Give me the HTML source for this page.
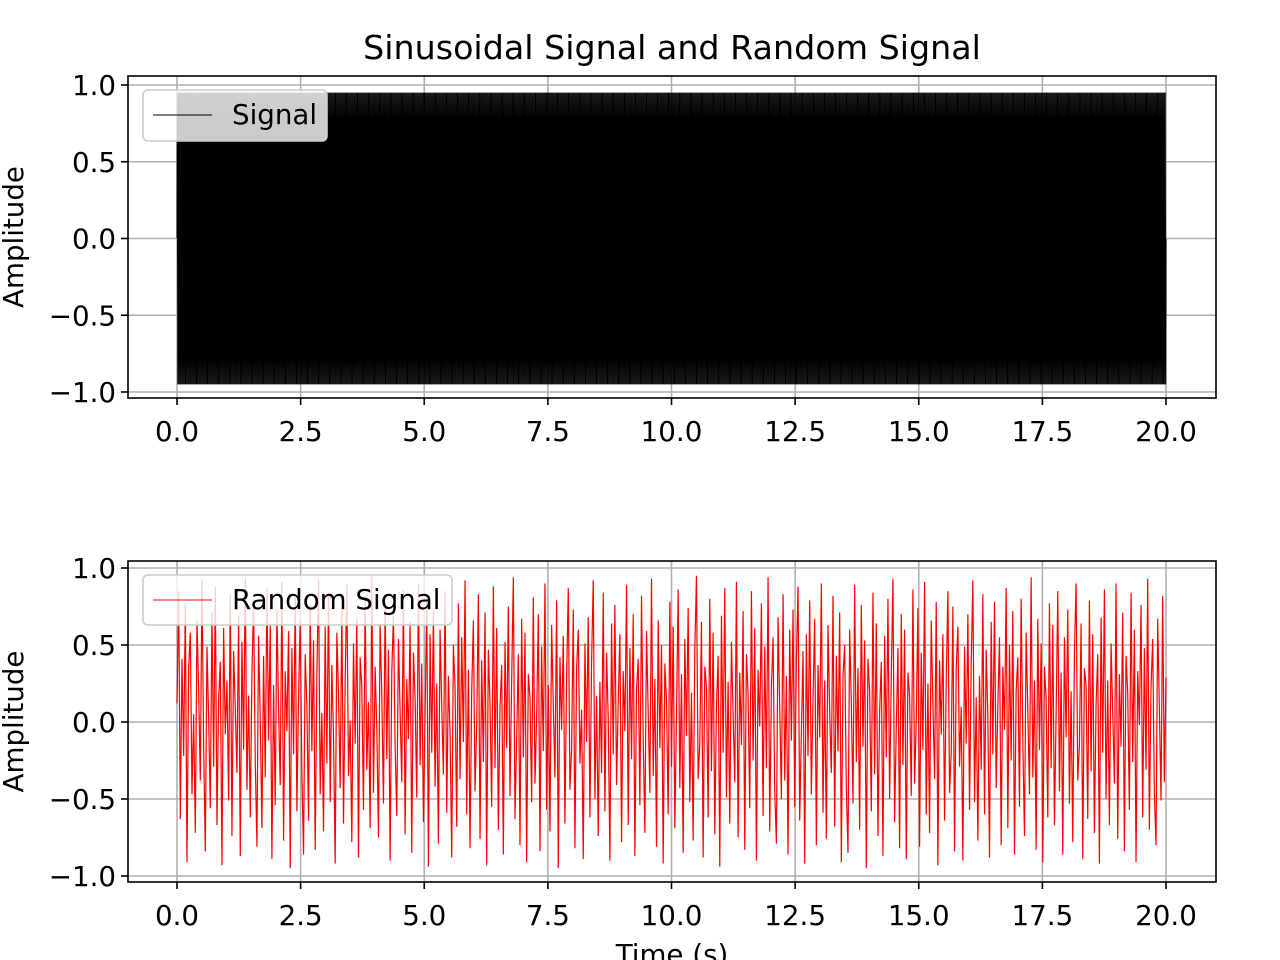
<!DOCTYPE html>
<html><head><meta charset="utf-8"><style>
html,body{margin:0;padding:0;background:#fff;}
svg{display:block;font-family:"DejaVu Sans","Liberation Sans",sans-serif;}
</style></head><body>
<svg id="fig" width="1280" height="960" viewBox="0 0 1280 960"></svg>
<script>
const xTicks=[0,2.5,5,7.5,10,12.5,15,17.5,20];
const xTickLabels=["0.0","2.5","5.0","7.5","10.0","12.5","15.0","17.5","20.0"];
const yTicks=[-1,-0.5,0,0.5,1];
const yTickLabels=["\u22121.0","\u22120.5","0.0","0.5","1.0"];
const sigAmp=0.95;
const sigFreq=45;
const tStart=0, tEnd=20;
const randomValues=[0.12,0.85,-0.63,0.41,-0.22,0.77,-0.91,0.35,0.58,-0.47,0.05,-0.72,0.66,0.21,-0.38,0.92,-0.15,-0.84,0.49,0.03,-0.56,0.71,-0.29,0.88,-0.67,0.14,0.39,-0.93,0.61,-0.08,0.27,-0.51,0.83,-0.74,0.46,0.09,-0.33,0.69,-0.87,0.52,-0.18,0.94,-0.44,0.17,-0.62,0.31,0.78,-0.25,-0.81,0.56,0.02,-0.69,0.43,-0.36,0.87,-0.12,0.64,-0.89,0.24,-0.54,0.73,0.08,-0.41,0.91,-0.77,0.33,-0.06,0.59,-0.95,0.48,-0.21,0.81,-0.58,0.16,0.67,-0.32,-0.86,0.44,0.11,-0.64,0.76,-0.19,0.53,-0.83,0.29,0.93,-0.47,0.06,-0.71,0.62,-0.27,0.84,-0.52,0.37,-0.09,-0.92,0.58,0.19,-0.43,0.74,-0.66,0.26,0.89,-0.35,0.01,-0.78,0.51,-0.14,0.68,-0.88,0.42,0.23,-0.57,0.82,-0.31,0.13,-0.69,0.95,-0.46,0.36,-0.04,-0.75,0.63,0.18,-0.53,0.79,-0.24,0.47,-0.9,0.32,0.7,-0.16,-0.61,0.54,0.07,-0.39,0.86,-0.73,0.28,-0.11,0.65,-0.85,0.45,0.15,-0.49,0.9,-0.28,0.38,-0.65,0.04,0.8,-0.94,0.57,-0.2,0.72,-0.42,0.25,-0.79,0.6,0.1,-0.34,0.85,-0.59,0.3,-0.07,-0.88,0.5,0.22,-0.68,0.77,-0.37,0.55,-0.13,0.92,-0.6,0.34,-0.82,0.2,0.66,-0.45,-0.02,0.83,-0.76,0.4,-0.26,0.71,-0.93,0.47,0.12,-0.55,0.88,-0.3,0.61,-0.7,0.09,0.37,-0.86,0.52,-0.17,0.75,-0.48,0.27,0.94,-0.63,-0.1,0.44,-0.8,0.67,-0.23,0.58,-0.91,0.31,0.16,-0.52,0.81,-0.4,0.03,0.7,-0.84,0.49,-0.19,0.9,-0.57,0.24,-0.71,0.63,0.11,-0.36,0.79,-0.95,0.42,-0.05,0.56,-0.66,0.29,0.87,-0.44,-0.18,0.73,-0.82,0.35,0.6,-0.27,0.08,-0.89,0.51,-0.13,0.68,-0.62,0.39,0.92,-0.5,0.17,-0.74,0.26,-0.33,0.84,-0.58,0.45,0.02,-0.9,0.64,-0.21,0.76,-0.41,0.13,0.57,-0.78,0.33,-0.06,0.89,-0.67,0.48,-0.24,0.7,-0.87,0.21,0.41,-0.54,0.82,-0.11,-0.72,0.59,0.07,-0.46,0.93,-0.35,0.28,-0.81,0.66,-0.17,0.5,-0.92,0.38,0.14,-0.6,0.78,-0.29,0.62,-0.69,0.04,0.86,-0.43,0.31,-0.85,0.54,-0.09,0.74,-0.52,0.19,-0.77,0.47,0.95,-0.37,-0.14,0.65,-0.88,0.36,0.23,-0.62,0.8,-0.32,0.58,-0.73,0.1,0.43,-0.94,0.69,-0.2,0.87,-0.49,0.26,-0.66,0.52,0.05,-0.39,0.91,-0.75,0.32,-0.15,0.72,-0.83,0.44,0.18,-0.56,0.85,-0.25,0.61,-0.9,0.34,-0.03,0.77,-0.61,0.49,-0.3,0.94,-0.71,0.22,0.55,-0.45,-0.79,0.68,0.09,-0.5,0.83,-0.38,0.3,-0.86,0.6,-0.12,0.73,-0.55,0.4,0.88,-0.64,-0.07,0.46,-0.92,0.57,-0.22,0.79,-0.47,0.15,0.67,-0.8,0.37,-0.1,0.9,-0.59,0.27,-0.76,0.63,0.06,-0.33,0.82,-0.68,0.43,-0.19,0.71,-0.91,0.3,0.5,-0.42,-0.85,0.6,0.13,-0.53,0.89,-0.26,0.35,-0.7,0.76,-0.16,0.53,-0.95,0.41,0.2,-0.58,0.84,-0.34,0.64,-0.74,0.07,0.39,-0.87,0.56,-0.23,0.8,-0.5,0.29,0.93,-0.65,-0.04,0.48,-0.82,0.7,-0.28,0.6,-0.89,0.32,0.17,-0.48,0.86,-0.4,0.01,0.74,-0.81,0.45,-0.18,0.91,-0.6,0.25,-0.72,0.66,0.12,-0.37,0.78,-0.93,0.4,-0.08,0.57,-0.64,0.28,0.85,-0.46,-0.2,0.75,-0.84,0.34,0.62,-0.29,0.1,-0.9,0.49,-0.14,0.7,-0.57,0.38,0.92,-0.52,0.16,-0.77,0.3,-0.31,0.83,-0.6,0.47,0.03,-0.88,0.65,-0.21,0.78,-0.43,0.11,0.55,-0.8,0.36,-0.05,0.87,-0.69,0.5,-0.25,0.72,-0.86,0.2,0.42,-0.55,0.8,-0.12,-0.74,0.58,0.08,-0.47,0.94,-0.36,0.27,-0.83,0.67,-0.18,0.51,-0.91,0.36,0.15,-0.62,0.77,-0.3,0.63,-0.67,0.05,0.85,-0.45,0.32,-0.86,0.55,-0.1,0.73,-0.53,0.2,-0.78,0.46,0.9,-0.38,-0.15,0.64,-0.89,0.35,0.24,-0.63,0.79,-0.32,0.57,-0.72,0.11,0.44,-0.92,0.68,-0.2,0.86,-0.5,0.27,-0.67,0.51,0.06,-0.4,0.9,-0.76,0.31,-0.16,0.71,-0.84,0.43,0.19,-0.57,0.84,-0.26,0.6,-0.91,0.33,-0.02,0.76,-0.62,0.48,-0.31,0.93,-0.7,0.23,0.54,-0.46,-0.8,0.67,0.1,-0.51,0.82,-0.39,0.29];

const NS="http://www.w3.org/2000/svg";
const svg=document.getElementById('fig');
function mk(tag,attrs,parent){const e=document.createElementNS(NS,tag);for(const k in attrs)e.setAttribute(k,attrs[k]);(parent||svg).appendChild(e);return e;}

const L=128,R=1216,X0=177,X1=1166;
const FS=27.7;
function xs(v){return X0+(v-tStart)/(tEnd-tStart)*(X1-X0);}

function axes(top,bottom,yTop,yBot,name){
  const g=mk('g',{});
  
  
  const ys=v=>yBot+(v+1)/2*(yTop-yBot);
  xTicks.forEach((t,i)=>{
    const x=xs(t);
    const gl=mk('line',{x1:x,x2:x,y1:top,y2:bottom,stroke:'#b0b0b0','stroke-width':1.6},g);
    
    
    mk('line',{x1:x,x2:x,y1:bottom,y2:bottom+7,stroke:'#000','stroke-width':1.6},g);
    const tx=mk('text',{x:x,y:bottom+43,'text-anchor':'middle','font-size':FS},g);
    tx.textContent=xTickLabels[i];
    
    
  });
  yTicks.forEach((t,i)=>{
    const y=ys(t);
    const gl=mk('line',{x1:L,x2:R,y1:y,y2:y,stroke:'#b0b0b0','stroke-width':1.6},g);
    
    
    mk('line',{x1:L-7,x2:L,y1:y,y2:y,stroke:'#000','stroke-width':1.6},g);
    const tx=mk('text',{x:L-12,y:y+10,'text-anchor':'end','font-size':FS},g);
    tx.textContent=yTickLabels[i];
    
    
  });
  const yl=mk('text',{x:0,y:0,'text-anchor':'middle','font-size':FS,transform:`translate(23,${(top+bottom)/2}) rotate(-90)`},g);
  yl.textContent='Amplitude';
  
  
  return {g,ys};
}

// top
const A=axes(76,398,85,392,'top-axes');
let pts=[];
const nHalf=Math.round((tEnd-tStart)*sigFreq*2);
pts.push(xs(tStart)+','+A.ys(0));
for(let i=0;i<nHalf;i++){
  const t=tStart+(i+0.5)/(sigFreq*2);
  pts.push(xs(t).toFixed(2)+','+A.ys(i%2===0?sigAmp:-sigAmp).toFixed(2));
}
pts.push(xs(tEnd)+','+A.ys(0));
const sl=mk('polyline',{points:pts.join(' '),fill:'none',stroke:'#000','stroke-width':1},A.g);


const f1=mk('rect',{x:L,y:76,width:R-L,height:322,fill:'none',stroke:'#000','stroke-width':1.6},A.g);



// bottom
const B=axes(561,882,568,876,'bottom-axes');
let rp=[];
randomValues.forEach((v,i)=>{
  const t=tStart+i/(randomValues.length-1)*(tEnd-tStart);
  rp.push(xs(t).toFixed(2)+','+B.ys(v).toFixed(2));
});
const rl=mk('polyline',{points:rp.join(' '),fill:'none',stroke:'#ff0000','stroke-width':1.2},B.g);


const f2=mk('rect',{x:L,y:561,width:R-L,height:321,fill:'none',stroke:'#000','stroke-width':1.6},B.g);



function legend(x,y,w,h,color,label,name){
  const g=mk('g',{});
  
  
  mk('rect',{x:x,y:y,width:w,height:h,rx:5,fill:'#fff','fill-opacity':0.8,stroke:'#cccccc','stroke-width':1.6},g);
  mk('line',{x1:x+10,x2:x+69,y1:y+25,y2:y+25,stroke:color,'stroke-width':1},g);
  const t=mk('text',{x:x+89,y:y+34,'font-size':FS},g);
  t.textContent=label;
}
legend(143,90,184,51,'#000','Signal','legend-signal');
legend(143,575,309,50,'#ff0000','Random Signal','legend-random-signal');

const title=mk('text',{x:672,y:59,'text-anchor':'middle','font-size':33.3});
title.textContent='Sinusoidal Signal and Random Signal';


const xl=mk('text',{x:672,y:964,'text-anchor':'middle','font-size':FS});
xl.textContent='Time (s)';


</script>
</body></html>
